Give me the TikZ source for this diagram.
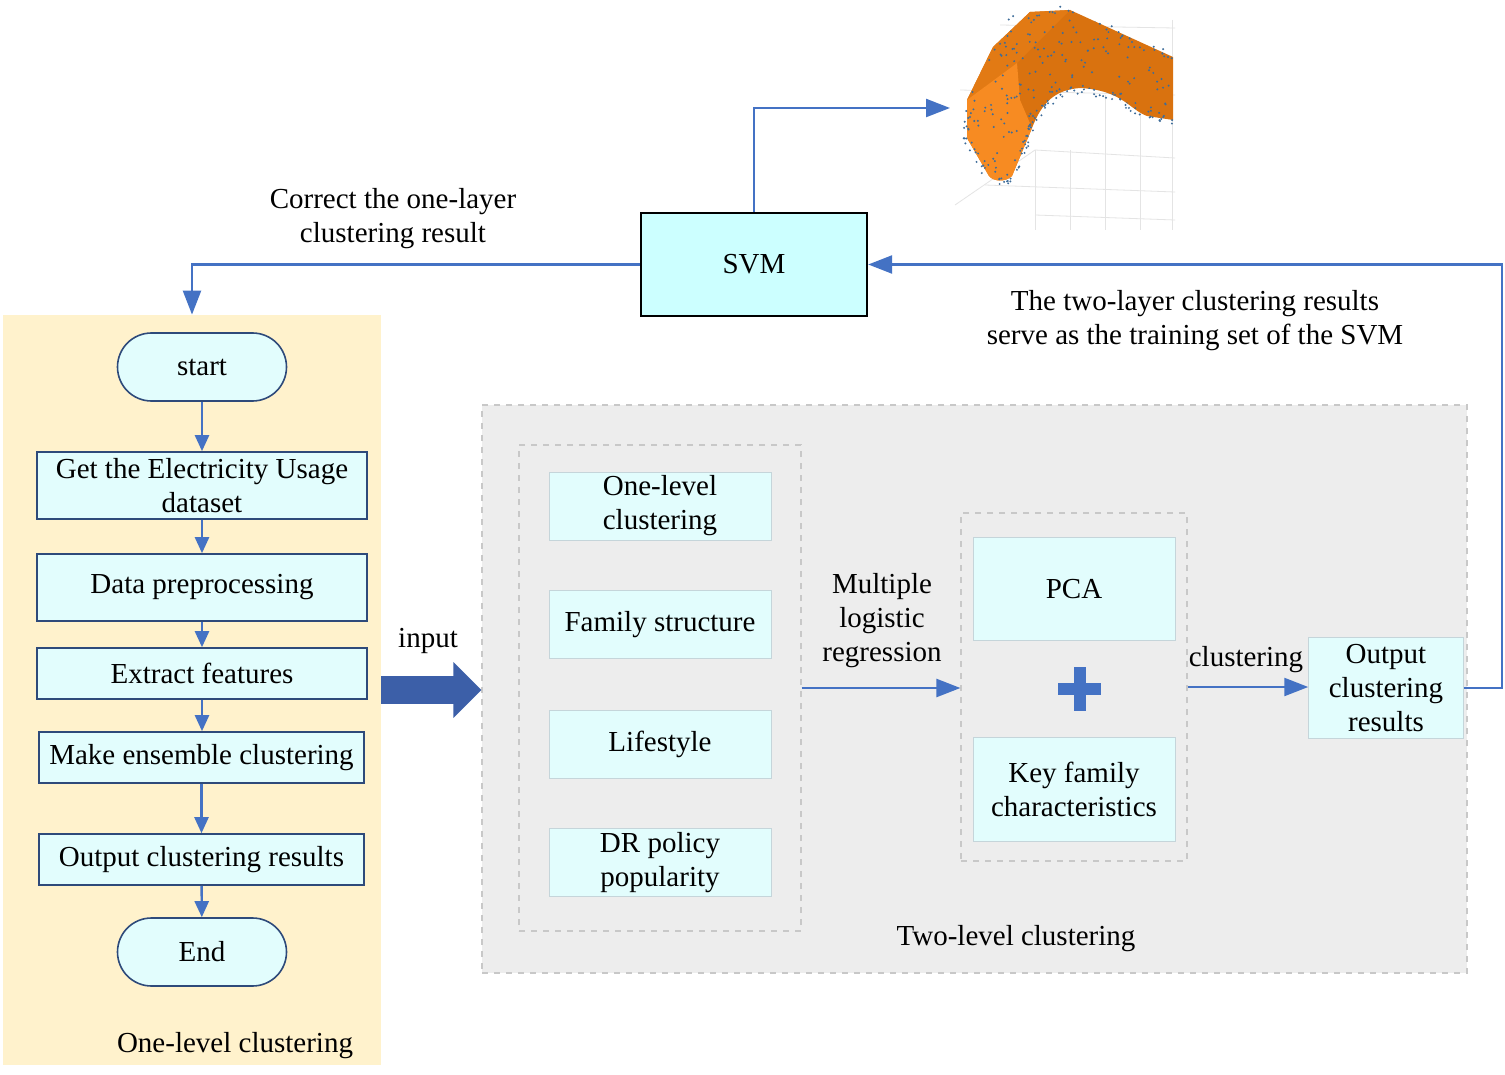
\documentclass[tikz,border=0pt]{standalone}
\usepackage{fontspec}
\setmainfont{Liberation Serif}
\usetikzlibrary{arrows.meta}
\newcommand\figfont{\fontsize{14.5}{17}\selectfont}
\definecolor{panelyellow}{HTML}{FFF2CC}
\definecolor{panelgray}{HTML}{EDEDED}
\definecolor{dashgray}{HTML}{C8C8C8}
\definecolor{boxfill}{HTML}{E2FDFD}
\definecolor{svmfill}{HTML}{CCFFFF}
\definecolor{boxborder}{HTML}{2E4A7A}
\definecolor{featborder}{HTML}{C5D5DA}
\definecolor{lineblue}{HTML}{4472C4}
\definecolor{thickblue}{HTML}{3C5FA8}
\definecolor{orA}{HTML}{D9720F}
\definecolor{orDark}{HTML}{E27A14}
\definecolor{orLight}{HTML}{F78B22}
\definecolor{dotblue}{HTML}{3D6C99}
\definecolor{gridgray}{HTML}{E4E4E4}
\tikzset{
  flowbox/.style={draw=boxborder, fill=boxfill, line width=0.8pt, inner sep=0pt, align=center, font=\figfont},
  termbox/.style={flowbox, rounded corners=17pt, minimum width=84.5pt, minimum height=34pt},
  featbox/.style={draw=featborder, fill=boxfill, line width=0.5pt, inner sep=0pt, align=center, font=\figfont},
  conn/.style={draw=lineblue, line width=1.2pt, -{Triangle[width=7pt,length=8pt]}},
  bigconn/.style={draw=lineblue, line width=1.2pt, -{Triangle[width=9pt,length=12pt]}},
  lbl/.style={align=center, inner sep=0pt, font=\figfont},
  panel/.style={inner sep=0pt, draw=none},
}
\begin{document}
\begin{tikzpicture}[x=0.5pt,y=-0.5pt]
\useasboundingbox (0,0) rectangle (1505,1075);
\fill[white] (0,0) rectangle (1505,1075);

% panels
\node[panel, fill=panelyellow, minimum width=189pt, minimum height=375pt] (onepanel) at (192,690) {};
\node[panel, fill=panelgray, draw=dashgray, dashed, line width=0.6pt, minimum width=492.5pt, minimum height=284pt] (twopanel) at (974.5,689) {};
\node[panel, draw=dashgray, dashed, line width=0.6pt, minimum width=141pt, minimum height=243pt] (inleft) at (660,688) {};
\node[panel, draw=dashgray, dashed, line width=0.6pt, minimum width=113pt, minimum height=174pt] (mid) at (1074,687) {};

% left flow
\node[termbox] (start) at (202,367) {start};
\node[flowbox, minimum width=165pt, minimum height=33.5pt] (b1) at (202,485.5) {Get the Electricity Usage\\dataset};
\node[flowbox, minimum width=165pt, minimum height=33.5pt] (b2) at (202,587.5) {Data preprocessing};
\node[flowbox, minimum width=165pt, minimum height=25.5pt] (b3) at (202,673.5) {Extract features};
\node[flowbox, minimum width=162.5pt, minimum height=25.5pt] (b4) at (201.5,757.5) {Make ensemble clustering};
\node[flowbox, minimum width=162.5pt, minimum height=25.5pt] (b5) at (201.5,859.5) {Output clustering results};
\node[termbox] (end) at (202,952) {End};
\node[lbl] (onelbl) at (235,1046) {One-level clustering};

\draw[conn] (start) -- (b1);
\draw[conn] (b1) -- (b2);
\draw[conn] (b2) -- (b3);
\draw[conn] (b3) -- (b4.north -| b3.south);
\draw[conn] (b4) -- (b5);
\draw[conn] (b5) -- (end);

% input arrow
\draw[thickblue, line width=14pt, -{Triangle[width=27pt,length=14pt]}] (onepanel.east) -- (twopanel.west |- onepanel.east);
\node[lbl] (inputlbl) at (428,641) {input};

% two-level
\node[featbox, minimum width=111pt, minimum height=34pt] (f1) at (660,506) {One-level\\clustering};
\node[featbox, minimum width=111pt, minimum height=34pt] (f2) at (660,624.75) {Family structure};
\node[featbox, minimum width=111pt, minimum height=34pt] (f3) at (660,744) {Lifestyle};
\node[featbox, minimum width=111pt, minimum height=34pt] (f4) at (660,862.5) {DR policy\\popularity};

\node[featbox, minimum width=101pt, minimum height=51.75pt] (pca) at (1074,589) {PCA};
\node[featbox, minimum width=101pt, minimum height=52pt] (key) at (1074,789) {Key family\\characteristics};
\fill[lineblue] (1057.5,683) rectangle (1101,695);
\fill[lineblue] (1073.5,667) rectangle (1085.5,711);

\node[featbox, minimum width=77.25pt, minimum height=50.75pt] (out) at (1386,688) {Output\\clustering\\results};

\node[lbl] (mlr) at (882,621) {Multiple\\logistic\\regression};
\node[lbl] (clus) at (1246,660) {clustering};
\node[lbl] (twolbl) at (1016,939) {Two-level clustering};

\draw[bigconn] (inleft.east) -- (mid.west |- inleft.east);
\draw[bigconn] (mid.east) -- (out.west |- mid.east);

% SVM
\node[draw=black, fill=svmfill, line width=1.2pt, minimum width=113pt, minimum height=51.5pt, inner sep=0pt, font=\figfont] (svm) at (754,264.5) {SVM};
\node[lbl] (corrlbl) at (393,219) {Correct the one-layer\\clustering result};
\node[lbl] (trainlbl) at (1195,321) {The two-layer clustering results\\serve as the training set of the SVM};

\coordinate (imgin) at (950,108);
\draw[bigconn] (svm.west) -| (onepanel.north);
\draw[bigconn] (svm.north) |- (imgin);
\draw[bigconn] (out.east) -- ++(38,0) |- (svm.east);

% 3D picture
\begin{scope}
  \draw[gridgray, line width=0.4pt] (955,205) -- (1035,150) -- (1175,158);
  \draw[gridgray, line width=0.4pt] (1035,150) -- (1035,230);
  \draw[gridgray, line width=0.4pt] (985,185) -- (1175,192);
  \draw[gridgray, line width=0.4pt] (1000,25) -- (1175,28);
  \draw[gridgray, line width=0.4pt] (960,90) -- (1175,95);
  \draw[gridgray, line width=0.4pt] (1105,95) -- (1105,230);
  \draw[gridgray, line width=0.4pt] (1140,100) -- (1140,230);
  \draw[gridgray, line width=0.4pt] (1070,150) -- (1070,230);
  \draw[gridgray, line width=0.4pt] (1172,20) -- (1172,230);
  \draw[gridgray, line width=0.4pt] (1035,215) -- (1175,220);
  \path[fill=orA] (1030,12) -- (1070,10) -- (1173,57) -- (1173,120) -- (1147,116)
     .. controls (1130,110) and (1122,90) .. (1080,88)
     .. controls (1055,90) and (1042,102) .. (1032,128)
     -- (1012,176) .. controls (1006,182) and (994,182) .. (989,176)
     -- (967,138) -- (967,100) -- (993,47) -- cycle;
  \path[fill=orDark] (1030,12) -- (1070,10) -- (1017,63) -- (967,100) -- (993,47) -- cycle;
  \path[fill=orLight] (967,100) -- (1017,63) -- (1020,100) -- (1032,128) -- (1012,176)
     .. controls (1006,182) and (994,182) .. (989,176) -- (967,138) -- cycle;
  \begin{scope}
    \clip (1030,12) -- (1070,10) -- (1173,57) -- (1173,120) -- (1147,116)
     .. controls (1130,110) and (1122,90) .. (1080,88)
     .. controls (1055,90) and (1042,102) .. (1032,128)
     -- (1012,176) .. controls (1006,182) and (994,182) .. (989,176)
     -- (967,138) -- (967,100) -- (993,47) -- cycle;
    \pgfmathsetseed{11}
    \foreach \i in {1,...,320} {
      \pgfmathsetmacro\rx{965+rnd*210}
      \pgfmathsetmacro\ry{8+rnd*175}
      \fill[dotblue] (\rx,\ry) circle (0.55pt);
    }
  \end{scope}
  \pgfmathsetseed{5}
  \foreach \ax/\ay/\bx/\by in {1173/120/1147/116, 1147/116/1117/95, 1117/95/1080/88, 1080/88/1053/93, 1053/93/1037/113, 1037/113/1027/140, 1027/140/1012/176, 1012/178/989/178, 989/176/967/138, 967/138/967/100, 1000/15/1070/8, 1100/25/1173/55} {
    \foreach \k in {1,...,10} {
      \pgfmathsetmacro\tt{rnd}
      \pgfmathsetmacro\rx{\ax+(\bx-\ax)*\tt+(rnd-0.5)*8}
      \pgfmathsetmacro\ry{\ay+(\by-\ay)*\tt+(rnd-0.3)*9}
      \fill[dotblue] (\rx,\ry) circle (0.55pt);
    }
  }
\end{scope}
\end{tikzpicture}
\end{document}
